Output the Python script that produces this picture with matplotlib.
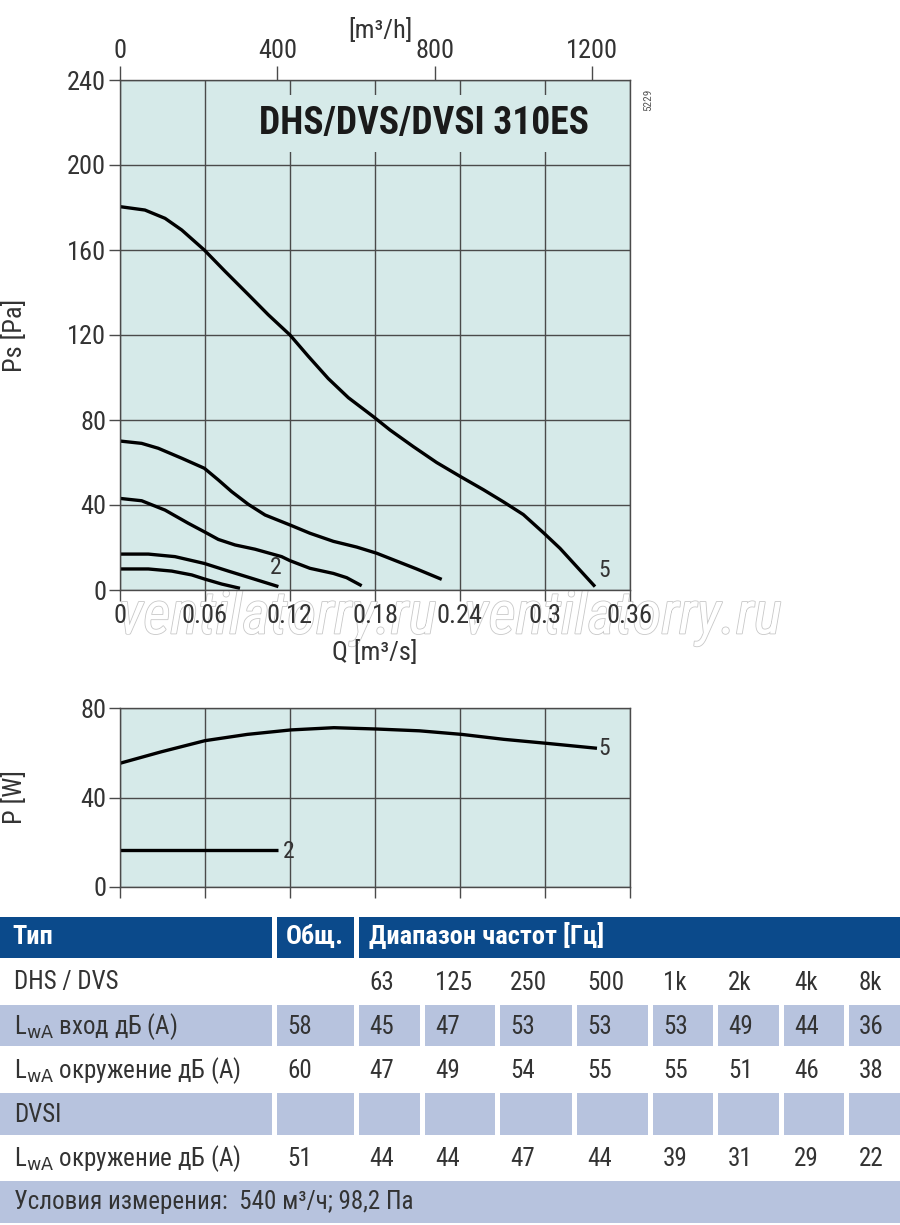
"""Fan curve sheet: DHS/DVS/DVSI 310ES pressure, power and sound table."""

import matplotlib
matplotlib.use("Agg")
import matplotlib.pyplot as plt
import matplotlib.patheffects as pe
from matplotlib import font_manager
from matplotlib.patches import Rectangle

# ---- pressure curves, Q [m3/s] vs Ps [Pa]
q5 = [0, 0.0176, 0.0318, 0.0436, 0.0595, 0.0741, 0.0906, 0.1047, 0.12, 0.1329,
      0.147, 0.1612, 0.1788, 0.1906, 0.207, 0.2235, 0.24, 0.2565, 0.2706, 0.2847,
      0.2993, 0.3106, 0.3224, 0.3353]
ps5 = [180.4, 178.8, 174.9, 169.4, 160, 150, 139, 129.5, 120, 110,
       99.5, 90.5, 81.6, 75.3, 67.5, 60, 53.5, 47.2, 41.5, 35.5,
       26.7, 19.6, 11, 1.6]
q4 = [0, 0.0153, 0.027, 0.0436, 0.0595, 0.0694, 0.0788, 0.0906, 0.1024, 0.12,
      0.1341, 0.1506, 0.1671, 0.1812, 0.1953, 0.2094, 0.2271]
ps4 = [70.1, 69, 66.7, 62, 57.3, 51.8, 46.3, 40.3, 35.3, 30.6,
       26.7, 22.9, 20.2, 17.3, 13.6, 9.9, 5.0]
q3 = [0, 0.0153, 0.0318, 0.0482, 0.0595, 0.0694, 0.0812, 0.0953, 0.1141, 0.12,
      0.1341, 0.1506, 0.16, 0.1706]
ps3 = [43.1, 42, 37.6, 31.4, 27.4, 23.8, 21.2, 19.2, 15.7, 13.8,
       10.2, 7.8, 5.8, 2.0]
q2 = [0, 0.02, 0.0388, 0.0595, 0.0765, 0.093, 0.1118]
ps2 = [16.9, 16.9, 15.7, 12.5, 8.9, 5.5, 1.6]
q1 = [0, 0.02, 0.0365, 0.0506, 0.0595, 0.0718, 0.0847]
ps1 = [9.9, 9.9, 8.9, 7.1, 5.2, 2.8, 0.8]

# ---- power curves, Q [m3/s] vs P [W]
qp5 = [0, 0.029, 0.06, 0.0898, 0.1206, 0.151, 0.1814, 0.2114, 0.2413, 0.2709,
       0.3013, 0.3367]
p5 = [55.3, 60.4, 65.4, 68.2, 70.2, 71.2, 70.6, 69.8, 68.2, 66.0, 64.2, 62.0]
qp2 = [0, 0.1118]
p2 = [16.7, 16.7]

q_ticks = [0, 0.06, 0.12, 0.18, 0.24, 0.3, 0.36]
q_labels = ["0", "0.06", "0.12", "0.18", "0.24", "0.3", "0.36"]
ps_ticks = [0, 40, 80, 120, 160, 200, 240]
p_ticks = [0, 40, 80]
mh_ticks = [0, 400, 800, 1200]

# ---- sound table
freq_labels = ["63", "125", "250", "500", "1k", "2k", "4k", "8k"]
lwa_in_total = 58
lwa_in = [45, 47, 53, 53, 53, 49, 44, 36]
lwa_env_total = 60
lwa_env = [47, 49, 54, 55, 55, 51, 46, 38]
dvsi_env_total = 51
dvsi_env = [44, 44, 47, 44, 39, 31, 29, 22]
footer = "Условия измерения:  540 м³/ч; 98,2 Па"

BG = "#d6eae9"
GRID = "#4a4a4a"
TXT = "#333333"
BLUE = "#0b4a8b"
LAV = "#b7c3de"
TICK_FS = 19
TAB_FS = 18


def pick_font():
    names = {f.name for f in font_manager.fontManager.ttflist}
    for cand in ["Roboto Condensed", "Liberation Sans Narrow", "Open Sans Condensed"]:
        if cand in names:
            return cand, "normal"
    return "DejaVu Sans", "condensed"


FONT, STRETCH = pick_font()
plt.rcParams["font.family"] = [FONT, "DejaVu Sans"]
plt.rcParams["font.stretch"] = STRETCH

W, H = 900, 1225
fig = plt.figure(figsize=(9, 12.25), dpi=100)


def px_axes(x0, y0, x1, y1):
    return fig.add_axes([x0 / W, 1 - y1 / H, (x1 - x0) / W, (y1 - y0) / H])


def style(ax):
    ax.set_facecolor(BG)
    ax.set_axisbelow(True)
    ax.grid(True, color=GRID, linewidth=1.0)
    for s in ax.spines.values():
        s.set_color(GRID)
        s.set_linewidth(1.0)
    ax.tick_params(direction="out", length=8, width=1.0, color=GRID,
                   labelsize=TICK_FS, labelcolor=TXT, pad=2)
    ax.set_zorder(1)


def curve(ax, x, y):
    ax.plot(x, y, color="black", linewidth=2.4, solid_capstyle="butt",
            solid_joinstyle="round", zorder=2)


# ---- top: pressure
ax = px_axes(120, 80, 630, 590)
style(ax)
for q, ps in [(q5, ps5), (q4, ps4), (q3, ps3), (q2, ps2), (q1, ps1)]:
    curve(ax, q, ps)
ax.set_xlim(0, 0.36)
ax.set_ylim(0, 240)
ax.set_xticks(q_ticks)
ax.set_xticklabels(q_labels)
ax.set_yticks(ps_ticks)
ax.text(0.106, 7.5, "2", fontsize=17, color=TXT)
ax.text(0.338, 6, "5", fontsize=17, color=TXT)
ax.text(0.2146, 219.5, "DHS/DVS/DVSI 310ES", fontsize=27, fontweight="bold",
        color="#1a1a1a", ha="center", va="center", zorder=3,
        bbox=dict(facecolor=BG, edgecolor="none", pad=7))

top = ax.secondary_xaxis("top", functions=(lambda q: q * 3600, lambda h: h / 3600))
top.set_xticks(mh_ticks)
top.tick_params(direction="out", length=10, width=1.0, color=GRID,
                labelsize=TICK_FS, labelcolor=TXT, pad=2)
top.spines["top"].set_visible(False)

fig.text(380 / W, 1 - 30 / H, "[m³/h]", fontsize=TICK_FS, color=TXT, ha="center", va="center")
fig.text(648 / W, 1 - 100 / H, "5229", fontsize=8, color="#555555", rotation=90,
         ha="center", va="center")
fig.text(15 / W, 1 - 335 / H, "Ps [Pa]", fontsize=TICK_FS, color=TXT, rotation=90,
         ha="center", va="center")
fig.text(375 / W, 1 - 652 / H, "Q [m³/s]", fontsize=TICK_FS, color=TXT, ha="center",
         va="center")

wm = fig.text(450 / W, 1 - 617 / H, "ventilatorry.ru  ventilatorry.ru", fontsize=43,
              style="italic", color="white", ha="center", va="center", zorder=0.5)
wm.set_path_effects([pe.withStroke(linewidth=1.2, foreground="#c8c8c8")])

# ---- bottom: power
bx = px_axes(120, 708, 630, 887)
style(bx)
curve(bx, qp5, p5)
curve(bx, qp2, p2)
bx.set_xlim(0, 0.36)
bx.set_ylim(0, 80)
bx.set_xticks(q_ticks)
bx.set_xticklabels([])
bx.set_yticks(p_ticks)
bx.text(0.338, 62, "5", fontsize=17, color=TXT, va="center")
bx.text(0.115, 16, "2", fontsize=17, color=TXT, va="center")
fig.text(15 / W, 1 - 797 / H, "P [W]", fontsize=TICK_FS, color=TXT, rotation=90,
         ha="center", va="center")

# ---- sound table (drawn in pixel coordinates)
tx = fig.add_axes([0, 0, 1, 1])
tx.set_xlim(0, W)
tx.set_ylim(H, 0)
tx.set_axis_off()

col_x = [0, 277, 359, 425, 500, 577, 653, 718, 784, 849, 900]
rows_y = [917, 960, 1005, 1048, 1093, 1137, 1181, 1223]
GAP = 5


def cell(x0, x1, y0, y1, color):
    tx.add_patch(Rectangle((x0, y0), x1 - x0 - GAP, y1 - y0 - GAP / 2,
                           facecolor=color, edgecolor="none"))


def put(x, y, s, color=TXT, weight="normal", size=TAB_FS):
    tx.text(x, y, s, fontsize=size, color=color, fontweight=weight, va="center", ha="left")


# header
cell(0, col_x[1], rows_y[0], rows_y[1], BLUE)
cell(col_x[1], col_x[2], rows_y[0], rows_y[1], BLUE)
tx.add_patch(Rectangle((col_x[2], rows_y[0]), W - col_x[2], rows_y[1] - rows_y[0] - GAP / 2,
                       facecolor=BLUE, edgecolor="none"))
hy = (rows_y[0] + rows_y[1]) / 2 - 2
put(12, hy, "Тип", "white", "semibold", 19)
put(col_x[1] + 9, hy, "Общ.", "white", "semibold", 19)
put(col_x[2] + 10, hy, "Диапазон частот [Гц]", "white", "semibold", 19)

# lavender rows
for r in (2, 4):
    for i in range(len(col_x) - 1):
        x1 = col_x[i + 1] if i < len(col_x) - 2 else W + GAP
        cell(col_x[i], x1, rows_y[r], rows_y[r + 1], LAV)
tx.add_patch(Rectangle((0, rows_y[6]), W, rows_y[7] - rows_y[6],
                       facecolor=LAV, edgecolor="none"))

lwa = "L$_{\\rm wA}$"
row_data = [
    ("DHS / DVS", "", freq_labels),
    (lwa + " вход дБ (A)", str(lwa_in_total), [str(v) for v in lwa_in]),
    (lwa + " окружение дБ (A)", str(lwa_env_total), [str(v) for v in lwa_env]),
    ("DVSI", "", [""] * 8),
    (lwa + " окружение дБ (A)", str(dvsi_env_total), [str(v) for v in dvsi_env]),
]
for r, (label, total, vals) in enumerate(row_data, start=1):
    y = (rows_y[r] + rows_y[r + 1]) / 2
    put(14, y, label)
    put(col_x[1] + 10, y, total)
    for i, v in enumerate(vals):
        put(col_x[i + 2] + 10, y, v)
put(14, (rows_y[6] + rows_y[7]) / 2, footer)

fig.savefig("out.png", dpi=100)
